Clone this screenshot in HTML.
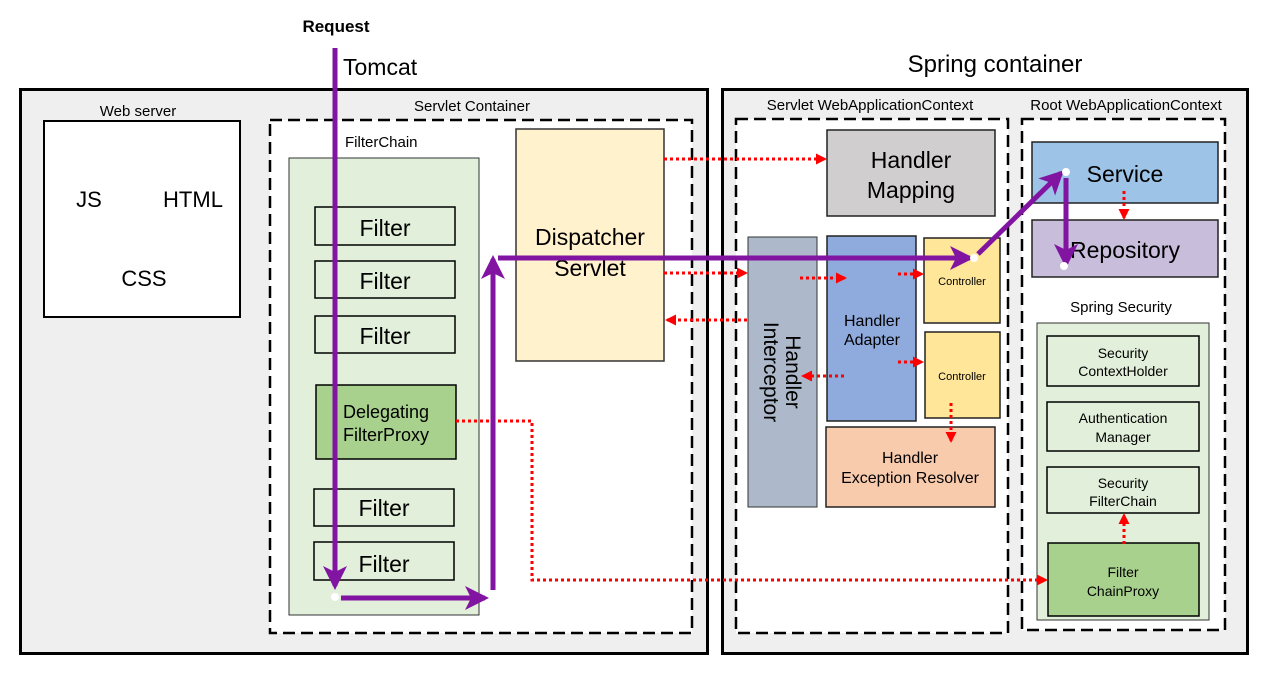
<!DOCTYPE html>
<html><head><meta charset="utf-8"><style>html,body{margin:0;padding:0;background:#fff}svg{display:block}text{font-family:"Liberation Sans","DejaVu Sans",sans-serif;fill:#000}</style></head><body>
<svg width="1280" height="680" viewBox="0 0 1280 680" xmlns="http://www.w3.org/2000/svg">
<defs>
<marker id="ra" markerWidth="11" markerHeight="11" refX="9" refY="5.5" orient="auto" markerUnits="userSpaceOnUse"><path d="M0,0 L11,5.5 L0,11 z" fill="#f00"/></marker>
<marker id="pa" markerWidth="24" markerHeight="24" refX="20" refY="12" orient="auto" markerUnits="userSpaceOnUse"><path d="M0,0 L24,12 L0,24 L6,12 z" fill="#8114a1"/></marker>
</defs>
<rect x="20.5" y="89.5" width="687" height="564" fill="#efefef" stroke="#000" stroke-width="3"/>
<rect x="722.5" y="89.5" width="525" height="564" fill="#efefef" stroke="#000" stroke-width="3"/>
<text x="343" y="75" font-size="23">Tomcat</text>
<text x="995" y="72" font-size="24" text-anchor="middle">Spring container</text>
<text x="336" y="32" font-size="17" font-weight="bold" text-anchor="middle">Request</text>
<text x="138" y="116" font-size="15" text-anchor="middle">Web server</text>
<rect x="44" y="121" width="196" height="196" fill="#fff" stroke="#000" stroke-width="2"/>
<text x="89" y="207" font-size="22" text-anchor="middle">JS</text>
<text x="193" y="207" font-size="22" text-anchor="middle">HTML</text>
<text x="144" y="286" font-size="22" text-anchor="middle">CSS</text>
<text x="472" y="111" font-size="15" text-anchor="middle">Servlet Container</text>
<rect x="270" y="120" width="422" height="513" fill="#fff" stroke="#000" stroke-width="2.5" stroke-dasharray="12,6"/>
<text x="345" y="147" font-size="15">FilterChain</text>
<rect x="289" y="158" width="190" height="457" fill="#e2efda" stroke="#333" stroke-width="1"/>
<g stroke="#000" stroke-width="1.5" fill="#e2efda">
<rect x="315" y="207" width="140" height="38"/>
<rect x="315" y="261" width="140" height="37"/>
<rect x="315" y="316" width="140" height="37"/>
<rect x="316" y="385" width="140" height="74" fill="#a9d18e"/>
<rect x="314" y="489" width="140" height="37"/>
<rect x="314" y="542" width="140" height="38"/>
</g>
<g font-size="23" text-anchor="middle">
<text x="385" y="236">Filter</text>
<text x="385" y="289">Filter</text>
<text x="385" y="344">Filter</text>
<text x="384" y="516">Filter</text>
<text x="384" y="572">Filter</text>
</g>
<text x="386" y="418" font-size="18" text-anchor="middle">Delegating</text>
<text x="386" y="441" font-size="18" text-anchor="middle">FilterProxy</text>
<rect x="516" y="129" width="148" height="232" fill="#fff2cc" stroke="#333" stroke-width="1.5"/>
<text x="590" y="245" font-size="23" text-anchor="middle">Dispatcher</text>
<text x="590" y="276" font-size="23" text-anchor="middle">Servlet</text>
<text x="870" y="110" font-size="15" text-anchor="middle">Servlet WebApplicationContext</text>
<rect x="736" y="119" width="272" height="514" fill="#fff" stroke="#000" stroke-width="2.5" stroke-dasharray="12,6"/>
<rect x="827" y="130" width="168" height="86" fill="#d0cece" stroke="#222" stroke-width="1.5"/>
<text x="911" y="168" font-size="23" text-anchor="middle">Handler</text>
<text x="911" y="198" font-size="23" text-anchor="middle">Mapping</text>
<rect x="748" y="237" width="69" height="270" fill="#adb9ca" stroke="#333" stroke-width="1"/>
<text transform="translate(782,372) rotate(90)" font-size="21" text-anchor="middle"><tspan x="0" dy="-4">Handler</tspan><tspan x="0" dy="22">Interceptor</tspan></text>
<rect x="827" y="236" width="89" height="185" fill="#8faadc" stroke="#222" stroke-width="1.5"/>
<text x="872" y="326" font-size="16" text-anchor="middle">Handler</text>
<text x="872" y="345" font-size="16" text-anchor="middle">Adapter</text>
<rect x="924" y="238" width="76" height="85" fill="#ffe699" stroke="#222" stroke-width="1.5"/>
<text x="962" y="285" font-size="11" text-anchor="middle">Controller</text>
<rect x="925" y="332" width="75" height="86" fill="#ffe699" stroke="#222" stroke-width="1.5"/>
<text x="962" y="380" font-size="11" text-anchor="middle">Controller</text>
<rect x="826" y="427" width="169" height="80" fill="#f8cbad" stroke="#222" stroke-width="1.5"/>
<text x="910" y="463" font-size="16" text-anchor="middle">Handler</text>
<text x="910" y="483" font-size="16" text-anchor="middle">Exception Resolver</text>
<text x="1126" y="110" font-size="15" text-anchor="middle">Root WebApplicationContext</text>
<rect x="1022" y="119" width="203" height="511" fill="#fff" stroke="#000" stroke-width="2.5" stroke-dasharray="12,6"/>
<rect x="1032" y="142" width="186" height="61" fill="#9dc3e6" stroke="#222" stroke-width="1.5"/>
<text x="1125" y="182" font-size="23" text-anchor="middle">Service</text>
<rect x="1032" y="220" width="186" height="57" fill="#c9bddc" stroke="#222" stroke-width="1.5"/>
<text x="1125" y="258" font-size="23" text-anchor="middle">Repository</text>
<text x="1121" y="312" font-size="15" text-anchor="middle">Spring Security</text>
<rect x="1037" y="323" width="172" height="297" fill="#e2efda" stroke="#333" stroke-width="1"/>
<g stroke="#000" stroke-width="1.5" fill="#e2efda">
<rect x="1047" y="336" width="152" height="50"/>
<rect x="1047" y="402" width="152" height="49"/>
<rect x="1047" y="467" width="152" height="46"/>
<rect x="1048" y="543" width="151" height="73" fill="#a9d18e"/>
</g>
<g font-size="14" text-anchor="middle">
<text x="1123" y="358">Security</text><text x="1123" y="376">ContextHolder</text>
<text x="1123" y="423">Authentication</text><text x="1123" y="442">Manager</text>
<text x="1123" y="488">Security</text><text x="1123" y="506">FilterChain</text>
<text x="1123" y="577">Filter</text><text x="1123" y="596">ChainProxy</text>
</g>
<g stroke="#f00" stroke-width="3" stroke-dasharray="3,3" fill="none" marker-end="url(#ra)">
<path d="M664,159 H825"/>
<path d="M664,273 H746"/>
<path d="M747,320 H667"/>
<path d="M800,278 H845"/>
<path d="M898,274 H922"/>
<path d="M844,376 H803"/>
<path d="M898,362 H922"/>
<path d="M951,403 V441"/>
<path d="M1124,191 V218"/>
<path d="M1124,544 V515"/>
<path d="M456,421 H532 V580 H1046"/>
</g>
<g stroke="#8114a1" stroke-width="5" fill="none" marker-end="url(#pa)">
<path d="M335,48 V586"/>
<path d="M341,598 H485"/>
<path d="M493,590 V259"/>
<path d="M498,258 H970"/>
<path d="M978,254 L1061,173"/>
<path d="M1066,178 V264"/>
</g>
<g fill="#fff">
<circle cx="335" cy="597" r="4"/>
<circle cx="974" cy="258" r="4"/>
<circle cx="1066" cy="172" r="4"/>
<circle cx="1064" cy="266" r="4"/>
</g>
</svg>
</body></html>
